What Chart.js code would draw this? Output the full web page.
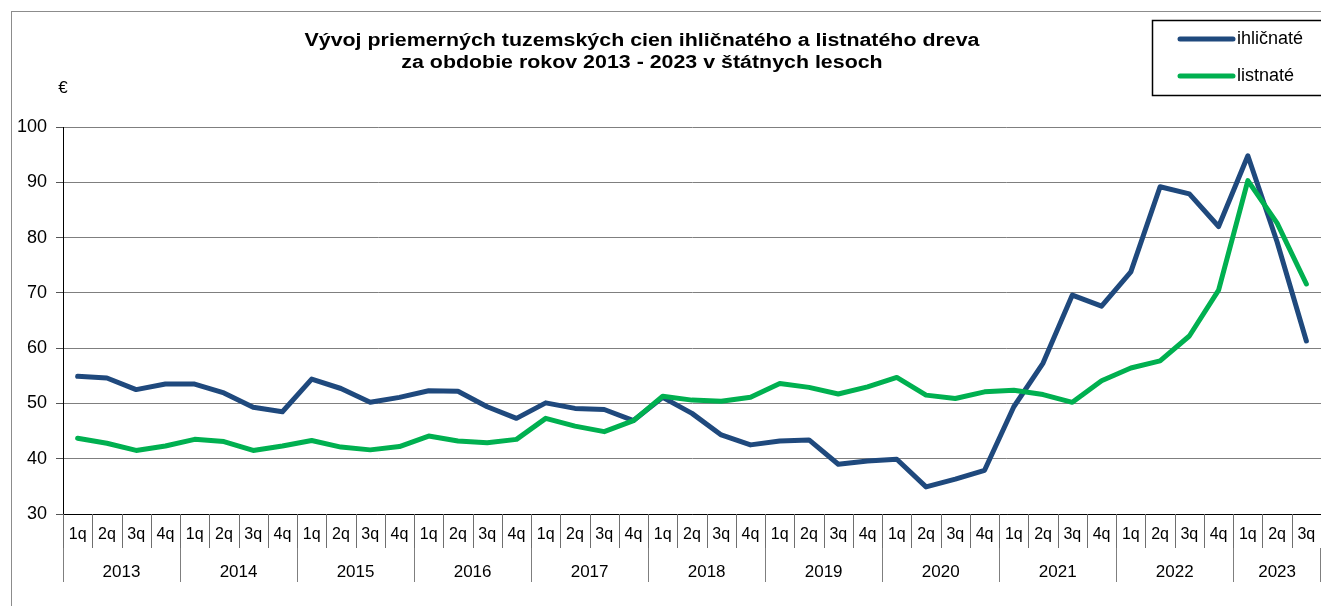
<!DOCTYPE html>
<html>
<head>
<meta charset="utf-8">
<script src="https://cdn.jsdelivr.net/npm/chart.js@4/dist/chart.umd.min.js"></script>
<style>
  body { margin: 0; background: #fff; }
  canvas { display: block; }
</style>
</head>
<body>
<canvas id="myChart" width="1321" height="606"></canvas>
<script>
const years = ['2013', '2014', '2015', '2016', '2017', '2018', '2019', '2020', '2021', '2022', '2023'];
const quartersPerYear = [4, 4, 4, 4, 4, 4, 4, 4, 4, 4, 3];
const quarterNames = ['1q', '2q', '3q', '4q'];

const ihlicnate = [54.9, 54.6, 52.5, 53.5, 53.5, 51.9, 49.3, 48.5, 54.4, 52.7, 50.2, 51.1,
    52.3, 52.2, 49.4, 47.3, 50.1, 49.1, 48.9, 46.9, 51.1, 48.2, 44.3, 42.5,
    43.2, 43.4, 39.0, 39.6, 39.9, 34.9, 36.3, 37.9, 49.4, 57.3, 69.6, 67.6,
    73.8, 89.2, 87.9, 82.0, 94.8, 79.2, 61.3];
const listnate = [43.7, 42.8, 41.5, 42.3, 43.5, 43.1, 41.5, 42.3, 43.3, 42.1, 41.6, 42.2,
    44.1, 43.2, 42.9, 43.5, 47.3, 45.9, 44.9, 46.9, 51.3, 50.6, 50.4, 51.1,
    53.6, 52.9, 51.7, 53.0, 54.7, 51.5, 50.9, 52.1, 52.4, 51.6, 50.2, 54.1,
    56.4, 57.7, 62.2, 70.5, 90.3, 82.6, 71.6];

const titleLines = ['Vývoj priemerných tuzemských cien ihličnatého a listnatého dreva',
    'za obdobie rokov 2013 - 2023 v štátnych lesoch'];
const unitLabel = '€';

const FONT = "'Liberation Sans', Arial, sans-serif";

// labels: one per quarter
const labels = [];
years.forEach((y, i) => {
    for (let q = 0; q < quartersPerYear[i]; q++) labels.push(quarterNames[q]);
});

const decorations = {
    id: 'decorations',
    afterDraw(chart) {
        const ctx = chart.ctx;
        const xs = chart.scales.x;
        const area = chart.chartArea;
        const step = xs.getPixelForValue(1) - xs.getPixelForValue(0);
        const edge = k => xs.getPixelForValue(0) - step / 2 + k * step;
        ctx.save();

        // outer frame
        ctx.strokeStyle = '#8c8c8c';
        ctx.lineWidth = 1;
        ctx.strokeRect(11.5, 11.5, 1330, 620);

        // title (original is set wider than Arial, stretch it a bit)
        ctx.fillStyle = '#000';
        ctx.textAlign = 'center';
        ctx.textBaseline = 'alphabetic';
        ctx.font = 'bold 18px ' + FONT;
        const stretch = 675 / ctx.measureText(titleLines[0]).width;
        ctx.save();
        ctx.translate(642, 0);
        ctx.scale(stretch, 1);
        ctx.fillText(titleLines[0], 0, 46);
        ctx.fillText(titleLines[1], 0, 68);
        ctx.restore();

        // unit
        ctx.textBaseline = 'middle';
        ctx.font = '17px ' + FONT;
        ctx.fillText(unitLabel, 63, 88);

        // quarter labels and separators
        ctx.textBaseline = 'alphabetic';
        ctx.font = '16px ' + FONT;
        labels.forEach((l, i) => {
            ctx.fillText(l, xs.getPixelForValue(i), 539);
        });
        ctx.strokeStyle = '#6e6e6e';
        ctx.beginPath();
        for (let k = 0; k <= labels.length; k++) {
            const x = Math.round(edge(k)) + 0.5;
            ctx.moveTo(x, area.bottom);
            ctx.lineTo(x, 548);
        }
        ctx.stroke();

        // year labels and separators
        ctx.font = '17px ' + FONT;
        ctx.strokeStyle = '#7f7f7f';
        ctx.beginPath();
        let k = 0;
        years.forEach((y, i) => {
            const a = edge(k), b = edge(k + quartersPerYear[i]);
            ctx.fillText(y, (a + b) / 2, 577);
            ctx.moveTo(Math.round(a) + 0.5, 548);
            ctx.lineTo(Math.round(a) + 0.5, 582);
            k += quartersPerYear[i];
        });
        ctx.moveTo(Math.round(edge(k)) - 0.5, 548);
        ctx.lineTo(Math.round(edge(k)) - 0.5, 582);
        ctx.stroke();

        // legend
        ctx.strokeStyle = '#000';
        ctx.lineWidth = 1.5;
        ctx.strokeRect(1152.5, 20.5, 180, 75);
        ctx.textBaseline = 'middle';
        chart.data.datasets.forEach((ds, i) => {
            const y = 39 + i * 37;
            ctx.strokeStyle = ds.borderColor;
            ctx.lineWidth = 5;
            ctx.lineCap = 'round';
            ctx.beginPath();
            ctx.moveTo(1180, y);
            ctx.lineTo(1233, y);
            ctx.stroke();
            ctx.fillStyle = '#000';
            ctx.textAlign = 'left';
            ctx.font = '18px ' + FONT;
            ctx.fillText(ds.label, 1237, y);
        });
        ctx.restore();
    }
};

new Chart(document.getElementById('myChart'), {
    type: 'line',
    data: {
        labels: labels,
        datasets: [{
            label: 'ihličnaté',
            data: ihlicnate,
            borderColor: '#1f497d',
            borderWidth: 5,
            order: 1,
        }, {
            label: 'listnaté',
            data: listnate,
            borderColor: '#00b050',
            borderWidth: 5,
            order: 0,
        }]
    },
    plugins: [decorations],
    options: {
        responsive: false,
        animation: false,
        layout: { padding: { top: 127, right: 0, bottom: 0, left: 0 } },
        elements: {
            line: { tension: 0, borderJoinStyle: 'round', borderCapStyle: 'round' },
            point: { radius: 0 }
        },
        plugins: {
            legend: { display: false },
            title: { display: false },
            tooltip: { enabled: false }
        },
        scales: {
            x: {
                offset: true,
                grid: { display: false },
                border: { display: true, color: '#000', width: 1 },
                ticks: { display: false },
                afterFit(scale) { scale.height = 92; }
            },
            y: {
                min: 30,
                max: 100,
                ticks: {
                    stepSize: 10,
                    color: '#000',
                    padding: 9,
                    font: { family: FONT, size: 18 }
                },
                grid: { color: '#7f7f7f', tickLength: 7, tickColor: '#555' },
                border: { color: '#000', width: 1 },
                afterFit(scale) { scale.width = 63; }
            }
        }
    }
});
</script>
</body>
</html>
